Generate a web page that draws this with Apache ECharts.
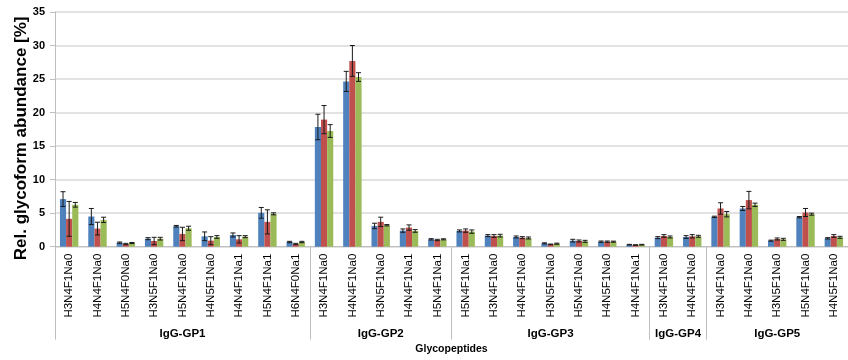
<!DOCTYPE html>
<html>
<head>
<meta charset="utf-8">
<title>Glycoform abundance</title>
<script src="https://cdn.jsdelivr.net/npm/echarts@6/dist/echarts.min.js"></script>
<style>
  html, body { margin: 0; padding: 0; background: #fff; }
  #chart { width: 848px; height: 360px; }
</style>
</head>
<body>
<div id="chart"></div>
<script>
// Glycopeptide groups and their glycoform categories
const groupNames = ['IgG-GP1', 'IgG-GP2', 'IgG-GP3', 'IgG-GP4', 'IgG-GP5'];
const groupSizes = [9, 5, 7, 2, 5];
const categories = [
  'H3N4F1Na0', 'H4N4F1Na0', 'H5N4F0Na0', 'H3N5F1Na0', 'H5N4F1Na0', 'H4N5F1Na0', 'H4N4F1Na1', 'H5N4F1Na1', 'H6N4F0Na1',
  'H3N4F1Na0', 'H4N4F1Na0', 'H3N5F1Na0', 'H4N4F1Na1', 'H5N4F1Na1',
  'H5N4F1Na1', 'H3N4F1Na0', 'H4N4F1Na0', 'H3N5F1Na0', 'H5N4F1Na0', 'H4N5F1Na0', 'H4N4F1Na1',
  'H3N4F1Na0', 'H4N4F1Na0',
  'H3N4F1Na0', 'H4N4F1Na0', 'H3N5F1Na0', 'H5N4F1Na0', 'H4N5F1Na0'
];

// Mean relative abundance [%] per sample series
const blueMean = [7.1, 4.5, 0.6, 1.2, 3.05, 1.55, 1.75, 5.05, 0.7,
  17.85, 24.65, 3.1, 2.4, 1.1,
  2.35, 1.65, 1.45, 0.5, 0.9, 0.75, 0.3,
  1.35, 1.45,
  4.45, 5.7, 0.9, 4.4, 1.25];
const redMean = [4.15, 2.7, 0.4, 0.85, 1.9, 0.9, 1.1, 3.7, 0.4,
  18.95, 27.7, 3.7, 2.85, 1.0,
  2.4, 1.6, 1.35, 0.35, 0.85, 0.75, 0.25,
  1.6, 1.55,
  5.7, 6.95, 1.15, 5.1, 1.6];
const greenMean = [6.25, 4.0, 0.55, 1.2, 2.75, 1.45, 1.5, 4.9, 0.7,
  17.25, 25.3, 3.2, 2.35, 1.1,
  2.25, 1.65, 1.3, 0.45, 0.8, 0.75, 0.3,
  1.45, 1.55,
  4.85, 6.25, 1.1, 4.85, 1.4];

// Standard deviations
const blueErr = [1.1, 1.2, 0.1, 0.15, 0.12, 0.65, 0.3, 0.8, 0.1,
  1.9, 1.5, 0.4, 0.25, 0.1,
  0.15, 0.15, 0.15, 0.08, 0.2, 0.1, 0.05,
  0.15, 0.2,
  0.1, 0.3, 0.08, 0.1, 0.1];
const redErr = [2.6, 0.95, 0.1, 0.55, 1.0, 0.6, 0.55, 1.8, 0.1,
  2.1, 2.3, 0.7, 0.4, 0.1,
  0.25, 0.2, 0.15, 0.05, 0.15, 0.1, 0.05,
  0.2, 0.25,
  0.85, 1.3, 0.15, 0.6, 0.2];
const greenErr = [0.35, 0.4, 0.08, 0.2, 0.3, 0.2, 0.15, 0.15, 0.1,
  0.95, 0.65, 0.1, 0.2, 0.08,
  0.25, 0.2, 0.15, 0.08, 0.15, 0.08, 0.05,
  0.15, 0.15,
  0.4, 0.25, 0.15, 0.15, 0.15];

const yTicks = [0, 5, 10, 15, 20, 25, 30, 35];

const seriesColors = ['#4F81BD', '#C0504D', '#9BBB59'];
const means = [blueMean, redMean, greenMean];
const errs = [blueErr, redErr, greenErr];
const CAT_GAP = 0.35;
const FONT = '"Liberation Sans", Arial, sans-serif';

// Group boundary indices (start of each group)
const boundaries = [];
let acc = 0;
groupSizes.forEach(function (n) { boundaries.push(acc); acc += n; });
boundaries.push(acc);

function errorBarRenderer(slot) {
  return function (params, api) {
    const idx = api.value(0);
    const mean = api.value(1);
    const err = api.value(2);
    const band = api.size([1, 0])[0];
    const barW = band * (1 - CAT_GAP) / 3;
    const cx = api.coord([idx, 0])[0] + (slot - 1) * barW;
    const top = api.coord([idx, mean + err])[1];
    const bot = api.coord([idx, Math.max(mean - err, 0)])[1];
    const cap = 2.5;
    const style = { stroke: '#1a1a1a', lineWidth: 1 };
    return {
      type: 'group',
      children: [
        { type: 'line', shape: { x1: cx, y1: top, x2: cx, y2: bot }, style: style },
        { type: 'line', shape: { x1: cx - cap, y1: top, x2: cx + cap, y2: top }, style: style },
        { type: 'line', shape: { x1: cx - cap, y1: bot, x2: cx + cap, y2: bot }, style: style }
      ]
    };
  };
}

const series = [];
means.forEach(function (m, i) {
  series.push({
    type: 'bar',
    name: 'S' + (i + 1),
    data: m,
    barGap: '0%',
    barCategoryGap: (CAT_GAP * 100) + '%',
    itemStyle: { color: seriesColors[i] },
    z: 2
  });
});
means.forEach(function (m, i) {
  series.push({
    type: 'custom',
    name: 'E' + (i + 1),
    renderItem: errorBarRenderer(i),
    encode: { x: 0, y: 1 },
    data: m.map(function (v, k) { return [k, v, errs[i][k]]; }),
    z: 5,
    silent: true
  });
});

const chart = echarts.init(document.getElementById('chart'), null, { renderer: 'canvas' });

chart.setOption({
  animation: false,
  backgroundColor: '#ffffff',
  grid: { left: 55, top: 12, width: 802, bottom: 113.3, containLabel: false },
  xAxis: {
    type: 'category',
    data: categories,
    name: 'Glycopeptides',
    nameLocation: 'middle',
    nameGap: 97,
    nameMoveOverlap: false,
    nameTextStyle: { fontFamily: FONT, fontSize: 10.5, fontWeight: 'bold', color: '#000', verticalAlign: 'top' },
    axisLine: { show: true, lineStyle: { color: '#bfbfbf', width: 1 } },
    axisTick: {
      show: true,
      length: 93,
      interval: function (index) { return boundaries.indexOf(index) !== -1; },
      lineStyle: { color: '#bfbfbf', width: 1 }
    },
    axisLabel: {
      interval: 0,
      rotate: 90,
      margin: 7,
      fontFamily: FONT,
      fontSize: 11.5,
      color: '#000'
    },
    splitLine: { show: false }
  },
  yAxis: {
    type: 'value',
    min: 0,
    max: 35,
    interval: 5,
    name: 'Rel. glycoform abundance [%]',
    nameLocation: 'middle',
    nameGap: 25,
    nameMoveOverlap: false,
    nameTextStyle: { fontFamily: FONT, fontSize: 17, fontWeight: 'bold', color: '#000', padding: [0, 18, 0, 0] },
    axisLine: { show: true, lineStyle: { color: '#bfbfbf', width: 1 } },
    axisTick: { show: true, length: 5, lineStyle: { color: '#bfbfbf' } },
    axisLabel: {
      margin: 10,
      fontFamily: FONT,
      fontSize: 11,
      fontWeight: 'bold',
      color: '#000',
      customValues: yTicks
    },
    splitLine: { show: true, lineStyle: { color: '#d9d9d9', width: 1.5 } }
  },
  series: series
});

// Group captions centred under their categories
const graphics = [];
groupNames.forEach(function (name, g) {
  const first = boundaries[g];
  const last = boundaries[g + 1] - 1;
  const x1 = chart.convertToPixel({ xAxisIndex: 0 }, first);
  const x2 = chart.convertToPixel({ xAxisIndex: 0 }, last);
  graphics.push({
    type: 'text',
    x: (x1 + x2) / 2,
    y: 334,
    style: {
      text: name,
      fontFamily: FONT,
      fontSize: 11.5,
      fontWeight: 'bold',
      fill: '#000',
      align: 'center',
      verticalAlign: 'middle'
    }
  });
});
chart.setOption({ graphic: graphics });
</script>
</body>
</html>
